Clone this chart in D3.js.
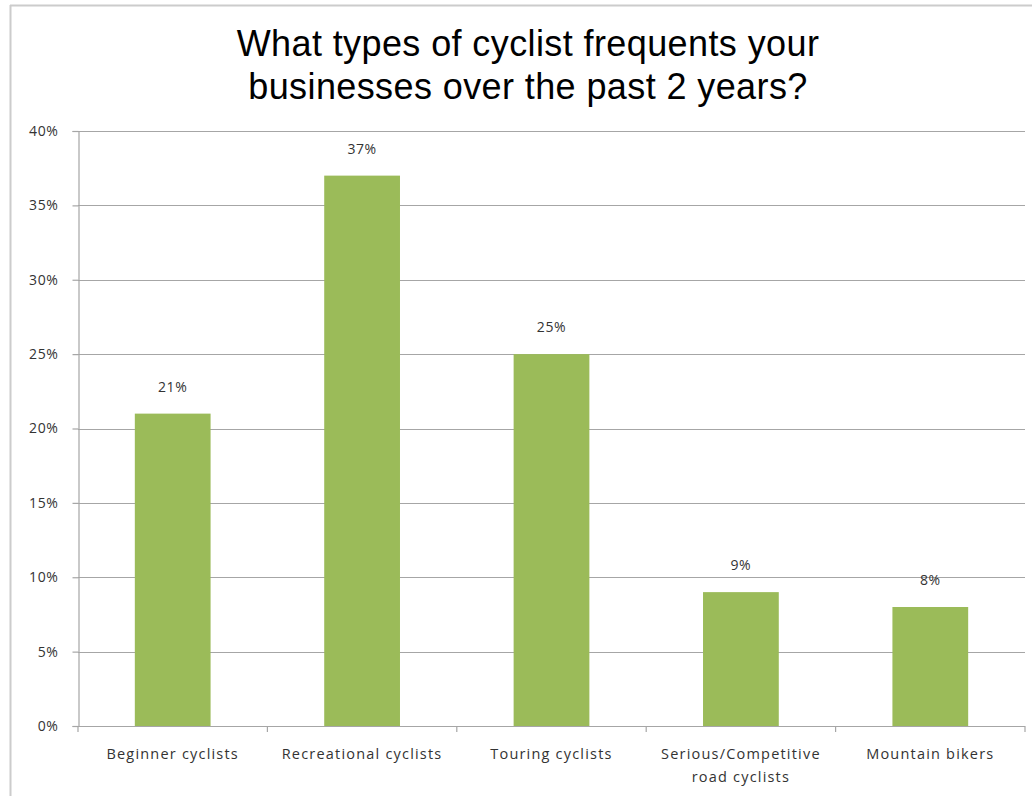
<!DOCTYPE html>
<html lang="en">
<head>
<meta charset="utf-8">
<title>Cyclist types</title>
<script src="https://cdn.jsdelivr.net/npm/d3@7"></script>
<style>
	body { margin: 0; background: #fff; }
</style>
</head>
<body>
<script>
	// data
	var categories = ["Beginner cyclists", "Recreational cyclists", "Touring cyclists", "Serious/Competitive road cyclists", "Mountain bikers"];
	var categoryLines = [["Beginner cyclists"], ["Recreational cyclists"], ["Touring cyclists"], ["Serious/Competitive", "road cyclists"], ["Mountain bikers"]];
	var values = [21, 37, 25, 9, 8];
	var yTicks = [0, 5, 10, 15, 20, 25, 30, 35, 40];
	var titleLines = ["What types of cyclist frequents your", "businesses over the past 2 years?"];

	var w = 1032, h = 796;
	var plotLeft = 78, plotRight = 1025, plotTop = 131, plotBottom = 726;
	var labelFont = "Open Sans, sans-serif";
	var gridColor = "#a6a6a6";
	var textColor = "#333";

	var svg = d3.select("body").append("svg").attr("width", w).attr("height", h);

	// chart frame (only top and left edges are visible)
	svg.append("line").attr("x1", 10).attr("x2", w).attr("y1", 5.5).attr("y2", 5.5)
		.attr("stroke", "#cccccc").attr("stroke-width", 2);
	svg.append("line").attr("x1", 10.5).attr("x2", 10.5).attr("y1", 5).attr("y2", h)
		.attr("stroke", "#cccccc").attr("stroke-width", 2);

	var x = d3.scaleBand().domain(categories).range([plotLeft, plotRight]).paddingInner(0.6).paddingOuter(0.3);
	var y = d3.scaleLinear().domain([0, 40]).range([plotBottom, plotTop]);

	// gridlines
	svg.append("g").selectAll("line").data(yTicks.filter(function(d){ return d > 0; })).enter()
		.append("line")
		.attr("x1", plotLeft).attr("x2", plotRight)
		.attr("y1", function(d){ return Math.round(y(d)) + 0.5; })
		.attr("y2", function(d){ return Math.round(y(d)) + 0.5; })
		.attr("stroke", gridColor).attr("stroke-width", 1.2);

	// y axis
	var yAxis = svg.append("g").attr("transform", "translate(" + (plotLeft + 0.5) + ",0)")
		.call(d3.axisLeft(y).tickValues(yTicks).tickSize(6).tickPadding(14)
			.tickFormat(function(d){ return d + "%"; }));
	yAxis.select(".domain").attr("stroke", gridColor).attr("stroke-width", 1.2);
	yAxis.selectAll(".tick line").attr("stroke", gridColor).attr("stroke-width", 1.2);
	yAxis.selectAll(".tick text").attr("font-family", labelFont).attr("font-size", "14px")
		.attr("letter-spacing", "0.6px").attr("fill", textColor);

	// x axis line and ticks at band boundaries
	var step = x.step();
	var bounds = d3.range(categories.length + 1).map(function(i){ return plotLeft + i * step; });
	svg.append("line").attr("x1", plotLeft).attr("x2", plotRight).attr("y1", plotBottom + 0.5).attr("y2", plotBottom + 0.5)
		.attr("stroke", gridColor).attr("stroke-width", 1.2);
	svg.append("g").selectAll("line").data(bounds).enter().append("line")
		.attr("x1", function(d){ return d; }).attr("x2", function(d){ return d; })
		.attr("y1", plotBottom).attr("y2", plotBottom + 6)
		.attr("stroke", gridColor).attr("stroke-width", 1.2);

	// bars
	svg.append("g").selectAll("rect").data(values).enter().append("rect")
		.attr("x", function(d, i){ return x(categories[i]); })
		.attr("width", x.bandwidth())
		.attr("y", function(d){ return y(d); })
		.attr("height", function(d){ return plotBottom - y(d); })
		.attr("fill", "#9bbb59");

	// value labels
	svg.append("g").selectAll("text").data(values).enter().append("text")
		.attr("x", function(d, i){ return x(categories[i]) + x.bandwidth() / 2; })
		.attr("y", function(d){ return y(d) - 22; })
		.attr("text-anchor", "middle")
		.attr("font-family", labelFont).attr("font-size", "14px")
		.attr("letter-spacing", "0.6px").attr("fill", textColor)
		.text(function(d){ return d + "%"; });

	// category labels
	var cat = svg.append("g").selectAll("text").data(categoryLines).enter().append("text")
		.attr("text-anchor", "middle")
		.attr("font-family", labelFont).attr("font-size", "14.5px")
		.attr("letter-spacing", "1.2px").attr("fill", textColor);
	cat.selectAll("tspan").data(function(d, i){ return d.map(function(s){ return {s: s, i: i}; }); }).enter()
		.append("tspan")
		.attr("x", function(d){ return x(categories[d.i]) + x.bandwidth() / 2; })
		.attr("y", function(d, j){ return 759 + j * 23; })
		.text(function(d){ return d.s; });

	// title
	svg.append("g").selectAll("text").data(titleLines).enter().append("text")
		.attr("x", 528).attr("y", function(d, i){ return 56 + i * 43; })
		.attr("text-anchor", "middle")
		.attr("font-family", "Liberation Sans, Arial, sans-serif").attr("font-size", "36px")
		.attr("letter-spacing", "0.4px")
		.attr("fill", "#000")
		.text(function(d){ return d; });
</script>
</body>
</html>
